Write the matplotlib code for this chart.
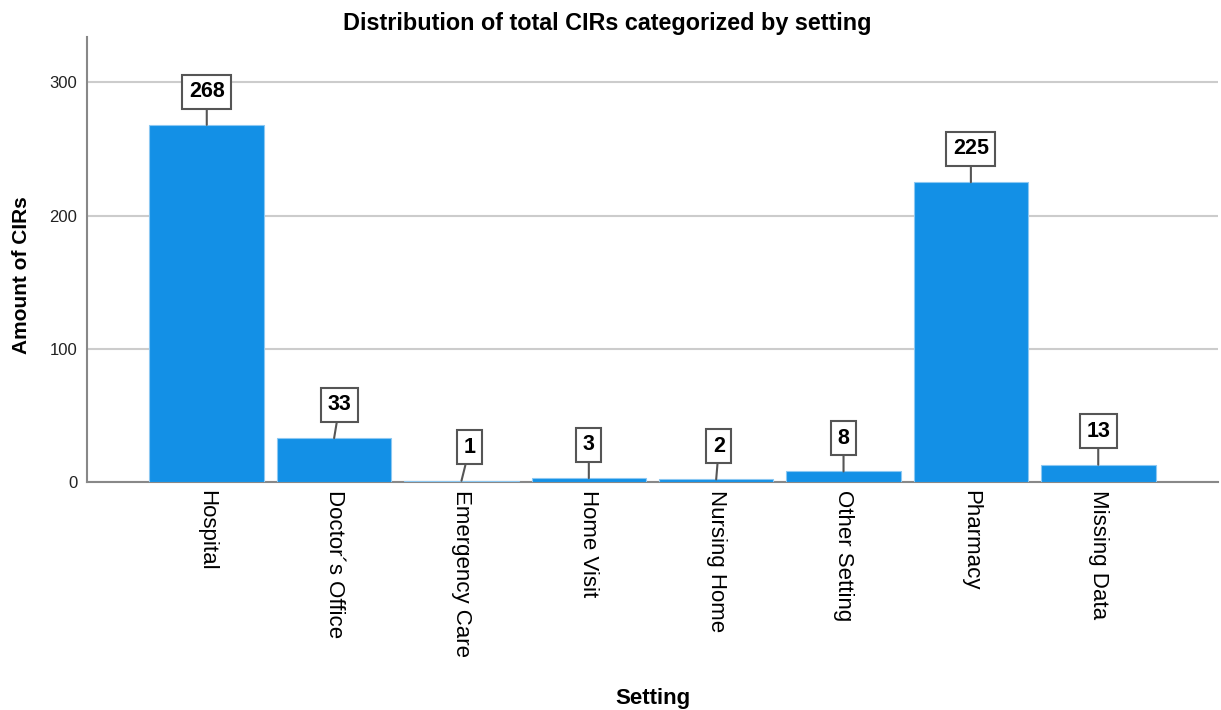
import matplotlib
matplotlib.use("Agg")
import matplotlib.pyplot as plt

# CIR counts per setting
settings = ["Hospital", "Doctor\u00b4s Office", "Emergency Care", "Home Visit",
            "Nursing Home", "Other Setting", "Pharmacy", "Missing Data"]
counts = [268, 33, 1, 3, 2, 8, 225, 13]

plt.rcParams['font.family'] = ['Liberation Sans', 'DejaVu Sans']

fig = plt.figure(figsize=(12.21, 7.10), dpi=100)
ax = fig.add_axes([0.0713, 0.321, 0.9262, 0.627])

bar_color = "#1390e6"
ax.bar(range(len(settings)), counts, width=0.9, color=bar_color,
       edgecolor="#8cc8f2", linewidth=0.8, zorder=3)

ax.set_xlim(-0.94, len(settings) - 1 + 0.94)
ax.set_ylim(0, 334)
ax.set_yticks([0, 100, 200, 300])
ax.tick_params(axis='y', labelsize=12, length=0, pad=7, labelcolor="#222222")
ax.set_xticks(range(len(settings)))
ax.set_xticklabels(settings, rotation=270, fontsize=16, va="top", ha="center")
ax.tick_params(axis='x', length=0, pad=6)

ax.grid(axis='y', color="#cccccc", linewidth=1.5, zorder=0)
for side in ["top", "right"]:
    ax.spines[side].set_visible(False)
for side in ["left", "bottom"]:
    ax.spines[side].set_color("#888888")
    ax.spines[side].set_linewidth(1.5)
ax.spines["bottom"].set_zorder(2)

# boxed value labels with short leader lines
label_dx = [0, 4, 6, 0, 2, 0, 0, 0]
for i, v in enumerate(counts):
    ax.annotate(str(v), xy=(i, v), xytext=(label_dx[i], 24),
                textcoords="offset points", ha="center", va="center",
                fontsize=15.5, fontweight="bold",
                bbox=dict(boxstyle="square,pad=0.3", fc="white",
                          ec="#555555", lw=1.5),
                arrowprops=dict(arrowstyle="-", color="#555555", lw=1.5,
                                shrinkA=0, shrinkB=0),
                zorder=5)

fig.text(0.497, 0.967, "Distribution of total CIRs categorized by setting",
         ha="center", va="center", fontsize=16.8, fontweight="bold")
ax.set_xlabel("Setting", fontsize=16, fontweight="bold", labelpad=22)
ax.set_ylabel("Amount of CIRs", fontsize=15, fontweight="bold")
ax.yaxis.set_label_coords(-0.05, 0.465)

fig.savefig("out.png", dpi=100)
